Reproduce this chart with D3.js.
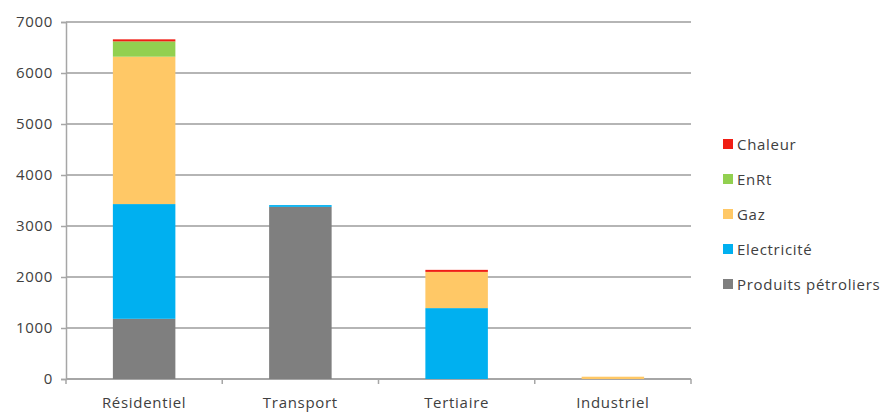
<!DOCTYPE html>
<html>
<head>
<meta charset="utf-8">
<script src="https://cdn.jsdelivr.net/npm/d3@7"></script>
<style>
  body { margin: 0; background: #fff; }
  svg text { font-family: "Open Sans", "Noto Sans", sans-serif; fill: #404040; letter-spacing: 0.7px; }
</style>
</head>
<body>
<svg></svg>
<script>
// categories and series
var categories = ["Résidentiel", "Transport", "Tertiaire", "Industriel"];
var seriesNames = ["Produits pétroliers", "Electricité", "Gaz", "EnRt", "Chaleur"];
var produitsPetroliers = [1180, 3375, 0, 0];
var electricite = [2250, 35, 1390, 0];
var gaz = [2890, 0, 710, 45];
var enrt = [300, 0, 0, 0];
var chaleur = [40, 0, 40, 0];
var yTicks = [0, 1000, 2000, 3000, 4000, 5000, 6000, 7000];

var colors = ["#7f7f7f", "#00b0f0", "#ffc866", "#92d050", "#f01e14"];

var width = 886, height = 412;
var margin = {top: 22, right: 195, bottom: 33, left: 66};
var w = width - margin.left - margin.right,
    h = height - margin.top - margin.bottom;

var rows = categories.map(function(c, i) {
    return {
        cat: c,
        "Produits pétroliers": produitsPetroliers[i],
        "Electricité": electricite[i],
        "Gaz": gaz[i],
        "EnRt": enrt[i],
        "Chaleur": chaleur[i]
    };
});

var stacked = d3.stack().keys(seriesNames)(rows);

var x = d3.scaleBand().domain(categories).range([0, w]).padding(0);
var barW = x.bandwidth() * 0.4;
var y = d3.scaleLinear().domain([0, 7000]).range([h, 0]);

var svg = d3.select("svg").attr("width", width).attr("height", height);
var g = svg.append("g").attr("transform", "translate(" + margin.left + "," + margin.top + ")");

// gridlines
g.selectAll(".grid").data(yTicks.slice(1)).enter().append("line")
    .attr("x1", 0).attr("x2", w)
    .attr("y1", function(d) { return y(d); })
    .attr("y2", function(d) { return y(d); })
    .attr("stroke", "#b5b5b5").attr("stroke-width", 2);

// y axis
var yAxis = d3.axisLeft(y).tickValues(yTicks).tickFormat(d3.format("d")).tickSize(5).tickPadding(8);
var ya = g.append("g").call(yAxis);
ya.select(".domain").attr("stroke", "#a6a6a6").attr("stroke-width", 1.5);
ya.selectAll(".tick line").attr("stroke", "#a6a6a6").attr("stroke-width", 1.5);
ya.selectAll(".tick text").style("font-size", "15px").attr("fill", "#404040");

// x axis
var xa = g.append("g").attr("transform", "translate(0," + h + ")");
xa.append("line").attr("x1", 0).attr("x2", w).attr("stroke", "#a6a6a6").attr("stroke-width", 2);
xa.selectAll(".xt").data(d3.range(categories.length + 1)).enter().append("line")
    .attr("x1", function(i) { return i * x.step(); })
    .attr("x2", function(i) { return i * x.step(); })
    .attr("y1", 0).attr("y2", 5)
    .attr("stroke", "#a6a6a6").attr("stroke-width", 1.5);
xa.selectAll(".xl").data(categories).enter().append("text")
    .attr("x", function(d) { return x(d) + x.bandwidth() / 2; })
    .attr("y", 29)
    .attr("text-anchor", "middle")
    .style("font-size", "15px")
    .text(function(d) { return d; });

// bars (on top of the axis line)
g.selectAll(".serie").data(stacked).enter().append("g")
    .attr("fill", function(d, i) { return colors[i]; })
    .selectAll("rect").data(function(d) { return d; }).enter().append("rect")
    .attr("x", function(d) { return x(d.data.cat) + (x.bandwidth() - barW) / 2; })
    .attr("width", barW)
    .attr("y", function(d) { return y(d[1]); })
    .attr("height", function(d) { return y(d[0]) - y(d[1]); });

// legend (reversed order, top = Chaleur)
var legend = svg.append("g").attr("transform", "translate(723,144)");
var items = seriesNames.slice().reverse();
var li = legend.selectAll(".li").data(items).enter().append("g")
    .attr("transform", function(d, i) { return "translate(0," + (i * 35) + ")"; });
li.append("rect").attr("x", 0).attr("y", -5).attr("width", 10).attr("height", 10)
    .attr("fill", function(d) { return colors[seriesNames.indexOf(d)]; });
li.append("text").attr("x", 14).attr("y", 5.5)
    .style("font-size", "15px")
    .text(function(d) { return d; });
</script>
</body>
</html>
